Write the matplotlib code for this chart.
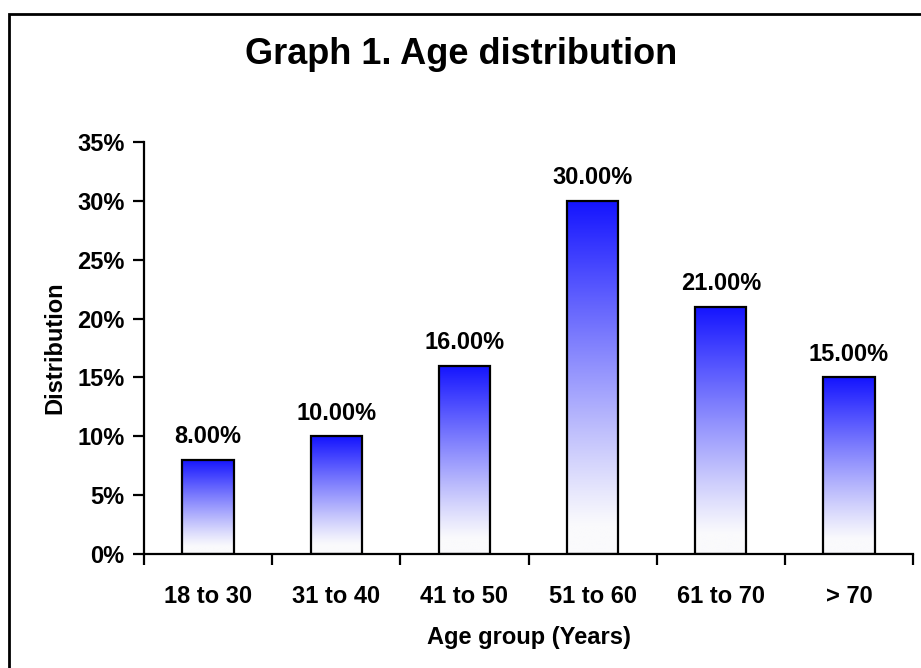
import matplotlib.pyplot as plt
import matplotlib.patches as patches
import numpy as np

# Data
age_groups = ['18 to 30', '31 to 40', '41 to 50', '51 to 60', '61 to 70', '> 70']
distribution = [8.0, 10.0, 16.0, 30.0, 21.0, 15.0]
y_ticks = [0, 5, 10, 15, 20, 25, 30, 35]

plt.rcParams['font.family'] = ['Liberation Sans', 'DejaVu Sans']
plt.rcParams['font.weight'] = 'bold'


def draw_chart():
    fig = plt.figure(figsize=(9.21, 6.68), dpi=100)
    ax = fig.add_axes([0.1564, 0.1707, 0.835, 0.6167])

    x = np.arange(len(age_groups))
    bars = ax.bar(x, distribution, width=0.4, facecolor='none',
                  edgecolor='black', linewidth=1.6, zorder=3)

    # Vertical gradient: blue on top fading to white at the bottom
    n = 256
    t = np.linspace(0, 1, n)[:, None]          # 0 = bottom, 1 = top
    t = np.clip((t - 0.08) / 0.92, 0, 1) ** 1.1
    top = np.array([20, 20, 255]) / 255.0
    bottom = np.array([250, 250, 252]) / 255.0
    grad = bottom + (top - bottom) * t[..., None]
    grad = np.repeat(grad, 2, axis=1)

    for bar in bars:
        x0, y0 = bar.get_x(), bar.get_y()
        w, h = bar.get_width(), bar.get_height()
        im = ax.imshow(grad, extent=[x0, x0 + w, y0, y0 + h], origin='lower',
                       aspect='auto', zorder=2, interpolation='bilinear')
        im.set_clip_path(bar)

    # Value labels above bars
    for xi, v in zip(x, distribution):
        ax.text(xi, v + 1.0, f'{v:.2f}%', ha='center', va='bottom',
                fontsize=17, fontweight='bold')

    ax.set_xlim(-0.5, len(age_groups) - 0.5)
    ax.set_ylim(0, 35)

    ax.set_yticks(y_ticks)
    ax.set_yticklabels([f'{v}%' for v in y_ticks], fontsize=17, fontweight='bold')
    ax.tick_params(axis='y', direction='out', length=8, width=1.6, pad=6)

    # category labels centered, ticks between categories
    ax.set_xticks(x)
    ax.set_xticklabels(age_groups, fontsize=17, fontweight='bold')
    ax.tick_params(axis='x', which='major', length=0, pad=22)
    ax.set_xticks(np.arange(-0.5, len(age_groups)), minor=True)
    ax.tick_params(axis='x', which='minor', direction='out', length=8, width=1.6)

    ax.spines['top'].set_visible(False)
    ax.spines['right'].set_visible(False)
    ax.spines['left'].set_linewidth(1.6)
    ax.spines['bottom'].set_linewidth(1.6)

    ax.set_xlabel('Age group (Years)', fontsize=17, fontweight='bold', labelpad=13)
    ax.set_ylabel('Distribution', fontsize=17, fontweight='bold', labelpad=8)

    fig.text(461 / 921, 1 - 55 / 668, 'Graph 1. Age distribution',
             ha='center', va='center', fontsize=26, fontweight='bold')

    # Outer chart border (right and bottom run off the image)
    border = patches.Rectangle((9 / 921, -0.05), 1.0, 1 - 14 / 668 + 0.05,
                               transform=fig.transFigure, fill=False,
                               edgecolor='black', linewidth=2.0)
    fig.add_artist(border)

    fig.savefig('out.png', dpi=100)


if __name__ == "__main__":
    draw_chart()
